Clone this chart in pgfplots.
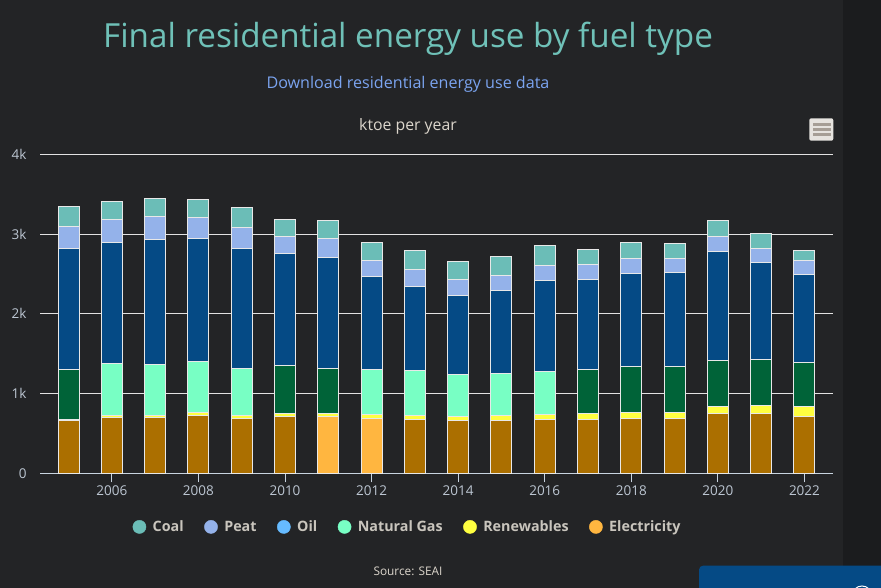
\documentclass[border=0pt]{standalone}
\usepackage{fontspec}
\setmainfont{Open Sans}
\usepackage{pgfplots}
\usepackage{pgfplotstable}
\pgfplotsset{compat=1.18}
\definecolor{bg}{HTML}{232426}
\definecolor{strip}{HTML}{1B1C1E}
\definecolor{elecD}{HTML}{AB6F00}
\definecolor{elecL}{HTML}{FFB640}
\definecolor{ren}{HTML}{FFFF40}
\definecolor{gasD}{HTML}{006338}
\definecolor{gasL}{HTML}{78FFC4}
\definecolor{oil}{HTML}{054A85}
\definecolor{oilL}{HTML}{66BBFF}
\definecolor{peat}{HTML}{94B2EA}
\definecolor{coal}{HTML}{6BBDB7}
\definecolor{border}{HTML}{E8E8E8}
\definecolor{titlec}{HTML}{6FC1B8}
\definecolor{subc}{HTML}{7BA4F0}
\definecolor{unitc}{HTML}{DCD6CC}
\definecolor{legc}{HTML}{C9C5BD}
\definecolor{tickc}{HTML}{BCC6D2}
\definecolor{axc}{HTML}{C8D4E0}
\definecolor{gridc}{HTML}{E2E2E2}
\definecolor{boxc}{HTML}{054A85}
\definecolor{menubg}{HTML}{E6E3DF}
\definecolor{menubar}{HTML}{A69E96}

\pgfplotstableread{
year elecD elecL ren gasD gasL oil peat coal
2005 656 0 15 625 0 1525 272 255
2006 702 0 17 0 664 1509 293 226
2007 702 0 25 0 640 1567 289 225
2008 727 0 30 0 639 1551 263 226
2009 690 0 37 0 590 1504 264 250
2010 715 0 37 602 0 1405 213 213
2011 0 715 37 565 0 1391 239 217
2012 0 690 50 0 564 1166 201 226
2013 677 0 50 0 565 1053 213 238
2014 665 0 50 0 526 991 201 225
2015 665 0 62 0 527 1041 188 238
2016 677 0 63 0 539 1141 188 251
2017 677 0 75 552 0 1129 188 188
2018 690 0 75 577 0 1166 188 201
2019 690 0 75 577 0 1178 176 188
2020 752 0 80 585 0 1367 188 200
2021 752 0 101 576 0 1217 175 188
2022 715 0 125 552 0 1103 176 125
}\data

\begin{document}
\begin{tikzpicture}[x=1bp,y=1bp]
\useasboundingbox (0,0) rectangle (881,588);
\fill[bg] (0,0) rectangle (881,588);
\fill[strip] (842.7,0) rectangle (881,588);
% menu icon
\fill[menubg, rounded corners=2bp] (809.3,447.3) rectangle (833.3,469.7);
\fill[menubar] (813.3,462.4) rectangle (830.7,465.0);
\fill[menubar] (813.3,457.4) rectangle (830.7,460.0);
\fill[menubar] (813.3,452.4) rectangle (830.7,455.0);
% blue box
\begin{scope}
\clip (0,0) rectangle (881,588);
\fill[boxc, rounded corners=4bp] (699,-10) rectangle (900,22.3);
\draw[white, line width=1bp] (862,-8) circle (10);
\end{scope}

\node[text=titlec, font=\fontsize{33.2bp}{40bp}\selectfont] at (408,549.5) {Final residential energy use by fuel type};
\node[text=subc, font=\fontsize{16.1bp}{19bp}\selectfont] at (408,504) {Download residential energy use data};
\node[text=unitc, font=\fontsize{15.8bp}{18bp}\selectfont] at (408,461.5) {ktoe per year};
\node[text=unitc, font=\fontsize{11.85bp}{14bp}\selectfont] at (408,16.7) {Source: SEAI};

\begin{axis}[
  at={(40bp,114.7bp)}, anchor=south west,
  scale only axis, width=793bp, height=319bp,
  xmin=2004.34, xmax=2022.66, ymin=0, ymax=4000,
  ybar stacked, bar width=21bp,
  axis x line=bottom, axis y line=left,
  x axis line style={-, draw=axc, line width=0.8bp},
  y axis line style={draw=none},
  xtick={2006,2008,...,2022},
  ytick={0,1000,2000,3000,4000},
  yticklabels={0,1k,2k,3k,4k},
  xticklabel style={/pgf/number format/1000 sep={}},
  /pgf/number format/assume math mode=true,
  ticklabel style={text=tickc, font=\fontsize{13.5bp}{16bp}\selectfont},
  xtick style={draw=axc, line width=0.8bp},
  ytick style={draw=none},
  tick align=outside, major tick length=9bp,
  ymajorgrids, major grid style={draw=gridc, line width=0.8bp},
  yticklabel style={anchor=east, xshift=-1bp},
  legend columns=6,
  legend style={at={(0.4635,-0.168)}, anchor=center, draw=none, fill=none,
    text=legc, font=\bfseries\fontsize{14.3bp}{18bp}\selectfont,
    /tikz/every even column/.append style={column sep=18.5bp},
    /tikz/every odd column/.append style={column sep=4.5bp}},
]
\addplot[fill=elecD, draw=border, line width=1bp, forget plot] table[x=year, y=elecD] {\data};
\addplot[fill=elecL, draw=border, line width=1bp, forget plot] table[x=year, y=elecL] {\data};
\addplot[fill=ren, draw=border, line width=1bp, forget plot] table[x=year, y=ren] {\data};
\addplot[fill=gasD, draw=border, line width=1bp, forget plot] table[x=year, y=gasD] {\data};
\addplot[fill=gasL, draw=border, line width=1bp, forget plot] table[x=year, y=gasL] {\data};
\addplot[fill=oil, draw=border, line width=1bp, forget plot] table[x=year, y=oil] {\data};
\addplot[fill=peat, draw=border, line width=1bp, forget plot] table[x=year, y=peat] {\data};
\addplot[fill=coal, draw=border, line width=1bp, forget plot] table[x=year, y=coal] {\data};
\addlegendimage{legend image code/.code={\fill[coal] (0bp,0bp) circle (6.6bp);}}
\addlegendentry{Coal}
\addlegendimage{legend image code/.code={\fill[peat] (0bp,0bp) circle (6.6bp);}}
\addlegendentry{Peat}
\addlegendimage{legend image code/.code={\fill[oilL] (0bp,0bp) circle (6.6bp);}}
\addlegendentry{Oil}
\addlegendimage{legend image code/.code={\fill[gasL] (0bp,0bp) circle (6.6bp);}}
\addlegendentry{Natural Gas}
\addlegendimage{legend image code/.code={\fill[ren] (0bp,0bp) circle (6.6bp);}}
\addlegendentry{Renewables}
\addlegendimage{legend image code/.code={\fill[elecL] (0bp,0bp) circle (6.6bp);}}
\addlegendentry{Electricity}
\end{axis}
\end{tikzpicture}
\end{document}
